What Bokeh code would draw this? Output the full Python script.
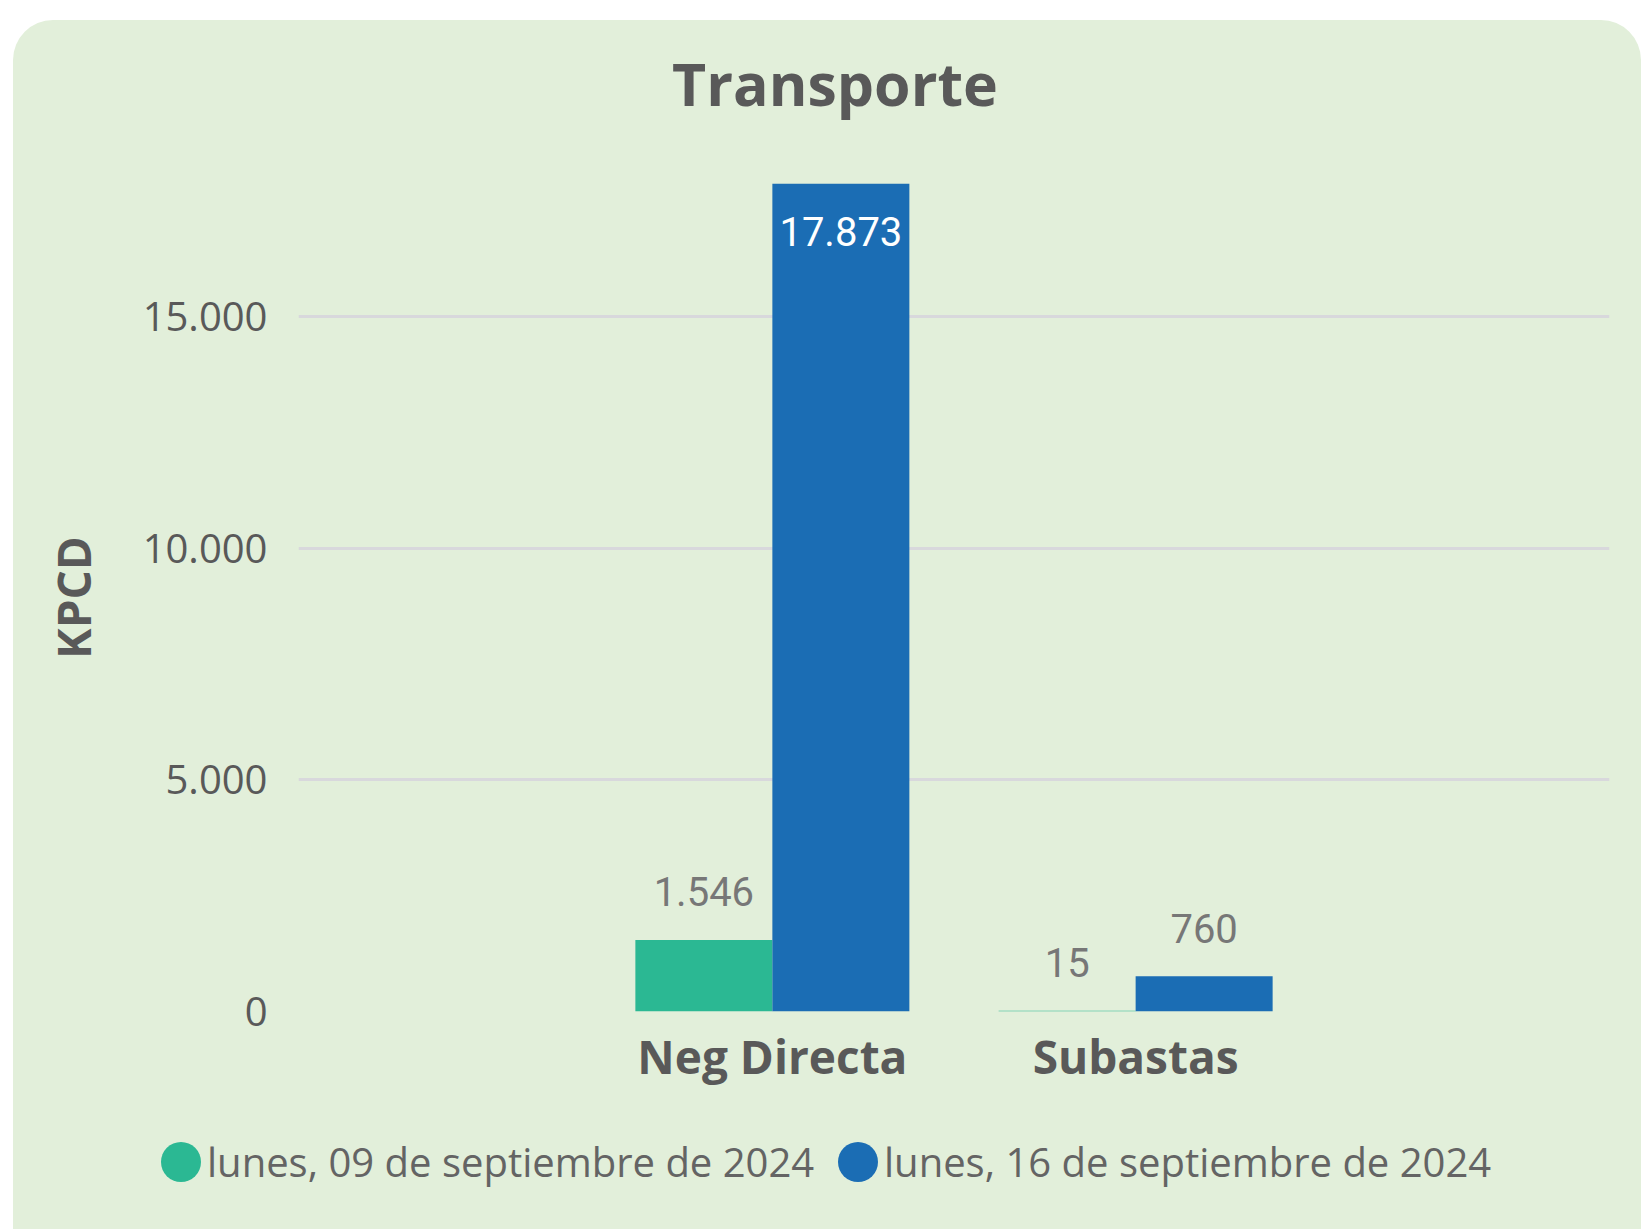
from bokeh.plotting import figure
from bokeh.layouts import column
from bokeh.models import FactorRange, Range1d, FixedTicker, ColumnDataSource, Div
from bokeh.transform import dodge
from bokeh.core.properties import value
from bokeh.embed import file_html
from bokeh.resources import INLINE

# ---------------- data ----------------
categories = ["Neg Directa", "Subastas"]
series_names = ["lunes, 09 de septiembre de 2024", "lunes, 16 de septiembre de 2024"]
sep09 = [1546, 15]
sep16 = [17873, 760]
y_ticks = [0, 5000, 10000, 15000]
y_tick_labels = ["0", "5.000", "10.000", "15.000"]
title_text = "Transporte"
y_axis_title = "KPCD"

# ---------------- style / layout ----------------
GREEN = "#2BB893"
BLUE = "#1B6DB4"
CARD = "#E2EFDA"
DARK = "#595959"
LBL = "#777777"
LEG = "#646464"
FONT = "Open Sans"

W = 1641
HT, HP, HL = 140, 960, 129          # title strip, chart, legend strip (sum 1229)
L, R, T, B = 298, 1609, 183, 1011   # frame edges in page px
HALF_PAD = 0.8045
Y_END = max(sep16 + sep09)


def fmt(v):
    return f"{v:,}".replace(",", ".")


PPX = (R - L) / (len(categories) + 2 * HALF_PAD)

# ---------------- title strip ----------------
title_div = Div(width=W, height=HT, margin=0, text=(
    f'<div style="position:relative;width:{W}px;height:{HT}px;">'
    f'<div style="position:absolute;left:535px;width:600px;top:54px;text-align:center;'
    f"font-family:'{FONT}';font-weight:bold;font-size:59px;line-height:59px;"
    f'color:{DARK};white-space:nowrap;">{title_text}</div></div>'))

# ---------------- chart ----------------
p = figure(x_range=FactorRange(*categories, range_padding=HALF_PAD, range_padding_units="absolute"),
           y_range=Range1d(0, Y_END),
           width=W, height=HP, output_backend="svg", toolbar_location=None,
           min_border_left=L, min_border_right=W - R,
           min_border_top=T - HT, min_border_bottom=HT + HP - B)
p.background_fill_color = None
p.border_fill_color = None
p.outline_line_color = None

src = ColumnDataSource(dict(
    cat=categories, a=sep09, b=sep16,
    a_lbl=[fmt(v) for v in sep09], b_lbl=[fmt(v) for v in sep16],
    b_col=["white" if v == max(sep16) else LBL for v in sep16],
    b_off=[48 if v == max(sep16) else -48 for v in sep16],
))

BW = 137 / PPX
p.vbar(x=dodge("cat", -BW / 2, range=p.x_range), top="a", width=BW, source=src,
       fill_color=GREEN, line_color=None)
p.vbar(x=dodge("cat", BW / 2, range=p.x_range), top="b", width=BW, source=src,
       fill_color=BLUE, line_color=None)

p.text(x=dodge("cat", -BW / 2, range=p.x_range), y="a", text="a_lbl", source=src,
       y_offset=-48, text_align="center", text_baseline="middle",
       text_font=value("Roboto"), text_font_size="40px", text_color=LBL)
p.text(x=dodge("cat", BW / 2, range=p.x_range), y="b", text="b_lbl", source=src,
       y_offset="b_off", text_align="center", text_baseline="middle",
       text_font=value("Roboto"), text_font_size="40px", text_color="b_col")

# axes
p.yaxis.ticker = FixedTicker(ticks=y_ticks)
p.yaxis.major_label_overrides = dict(zip(y_ticks, y_tick_labels))
p.yaxis.major_label_text_font = FONT
p.yaxis.major_label_text_font_size = "40px"
p.yaxis.major_label_text_color = DARK
p.yaxis.major_label_standoff = 25
p.yaxis.axis_label = y_axis_title
p.yaxis.axis_label_text_font = FONT
p.yaxis.axis_label_text_font_style = "bold"
p.yaxis.axis_label_text_font_size = "46px"
p.yaxis.axis_label_text_color = DARK
p.yaxis.axis_label_standoff = 36
p.yaxis.axis_line_color = None
p.yaxis.major_tick_line_color = None
p.yaxis.minor_tick_line_color = None

p.xaxis.major_label_text_font = FONT
p.xaxis.major_label_text_font_style = "bold"
p.xaxis.major_label_text_font_size = "46px"
p.xaxis.major_label_text_color = DARK
p.xaxis.major_label_standoff = 7
p.xaxis.axis_line_color = None
p.xaxis.major_tick_line_color = None
p.xaxis.minor_tick_line_color = None

p.xgrid.grid_line_color = None
p.ygrid.grid_line_color = "#D8D8DC"
p.ygrid.grid_line_width = 3

# ---------------- legend strip ----------------
def legend_item(color, label, dot_left):
    return (f'<div style="position:absolute;left:{dot_left}px;top:42px;width:40px;height:40px;'
            f'border-radius:50%;background:{color};"></div>'
            f'<div style="position:absolute;left:{dot_left + 46}px;top:42px;height:40px;'
            f"font-family:'{FONT}';font-size:40px;line-height:40px;color:{LEG};"
            f'white-space:nowrap;">{label}</div>')


legend_div = Div(width=W, height=HL, margin=0, text=(
    f'<div style="position:relative;width:{W}px;height:{HL}px;">'
    + legend_item(GREEN, series_names[0], 161)
    + legend_item(BLUE, series_names[1], 838)
    + '</div>'))

page = column(title_div, p, legend_div, spacing=0,
              styles={"background-color": CARD,
                      "clip-path": "inset(20px 0px 0px 13px round 40px 40px 0px 0px)"})

open("out.html", "w").write(file_html(page, INLINE))
